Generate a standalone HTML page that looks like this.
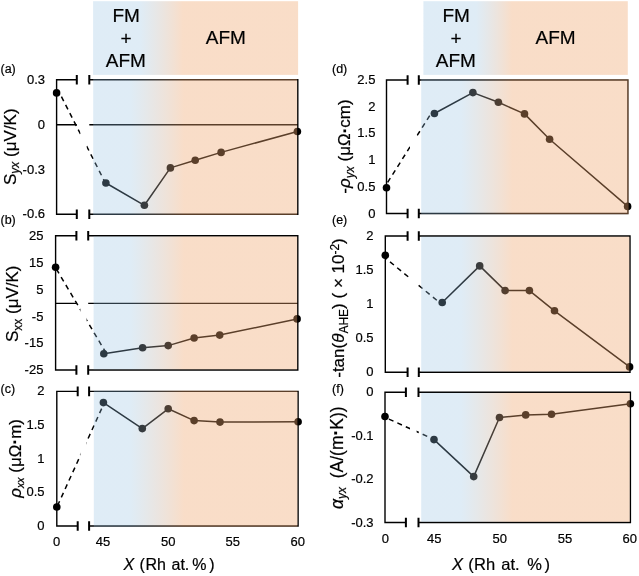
<!DOCTYPE html>
<html><head><meta charset="utf-8"><title>figure</title><style>
html,body{margin:0;padding:0;background:#fff;width:639px;height:576px;overflow:hidden;}
svg{display:block;will-change:transform;}
text{font-family:"Liberation Sans", sans-serif;fill:#000;stroke:#000;stroke-width:0.2px;}
</style></head><body>
<svg width="639" height="576" viewBox="0 0 639 576">
<defs>
<linearGradient id="gL" gradientUnits="userSpaceOnUse" x1="130.0" y1="0" x2="184.0" y2="0">
<stop offset="0" stop-color="rgb(148,192,225)" stop-opacity="0.300"/>
<stop offset="1" stop-color="rgb(239,166,110)" stop-opacity="0.380"/>
</linearGradient>
<linearGradient id="gR" gradientUnits="userSpaceOnUse" x1="461.0" y1="0" x2="512.5" y2="0">
<stop offset="0" stop-color="rgb(148,192,225)" stop-opacity="0.300"/>
<stop offset="1" stop-color="rgb(239,166,110)" stop-opacity="0.380"/>
</linearGradient>
<linearGradient id="gHL" gradientUnits="userSpaceOnUse" x1="140.0" y1="0" x2="183.0" y2="0">
<stop offset="0" stop-color="rgb(148,192,225)" stop-opacity="0.300"/>
<stop offset="1" stop-color="rgb(239,166,110)" stop-opacity="0.380"/>
</linearGradient>
<linearGradient id="gHR" gradientUnits="userSpaceOnUse" x1="476.0" y1="0" x2="512.0" y2="0">
<stop offset="0" stop-color="rgb(148,192,225)" stop-opacity="0.300"/>
<stop offset="1" stop-color="rgb(239,166,110)" stop-opacity="0.380"/>
</linearGradient>
</defs>
<rect width="639" height="576" fill="#fff"/>
<rect x="93.1" y="1.2" width="205" height="73.7" fill="url(#gHL)"/>
<rect x="423.4" y="1.2" width="204.4" height="73.7" fill="url(#gHR)"/>
<text x="126.1" y="21.9" font-size="19.0" text-anchor="middle">FM</text>
<text x="126.0" y="45.0" font-size="19.0" text-anchor="middle">+</text>
<text x="125.8" y="67.2" font-size="19.0" text-anchor="middle">AFM</text>
<text x="225.9" y="43.9" font-size="19.0" text-anchor="middle">AFM</text>
<text x="456.1" y="22.2" font-size="19.0" text-anchor="middle">FM</text>
<text x="456.0" y="45.4" font-size="19.0" text-anchor="middle">+</text>
<text x="455.9" y="67.4" font-size="19.0" text-anchor="middle">AFM</text>
<text x="555.6" y="44.2" font-size="19.0" text-anchor="middle">AFM</text>
<line x1="59.50" y1="92.80" x2="105.80" y2="183.80" stroke="#000" stroke-width="1.50" stroke-dasharray="5.00,4.25" stroke-dashoffset="4.99"/>
<polyline points="105.9,183.0 144.4,205.3 170.4,167.9 195.2,160.3 221.1,152.4 297.4,131.5" fill="none" stroke="#000" stroke-width="1.50" stroke-linejoin="round"/>
<rect x="80.4" y="73.8" width="6.2" height="146.5" fill="#fff"/>
<path d="M56.6 79.8 H76.8 M89.3 79.8 H297.8 M56.6 214.3 H76.8 M89.3 214.3 H297.8 M56.6 124.8 H76.8 M89.3 124.8 H297.8 M56.6 79.1 V215.0 M297.8 79.1 V215.0" fill="none" stroke="#000" stroke-width="1.40"/>
<circle cx="56.6" cy="92.9" r="3.80" fill="#000"/>
<circle cx="105.9" cy="183.0" r="3.80" fill="#000"/>
<circle cx="144.4" cy="205.3" r="3.80" fill="#000"/>
<circle cx="170.4" cy="167.9" r="3.80" fill="#000"/>
<circle cx="195.2" cy="160.3" r="3.80" fill="#000"/>
<circle cx="221.1" cy="152.4" r="3.80" fill="#000"/>
<circle cx="297.4" cy="131.5" r="3.80" fill="#000"/>
<rect x="93.2" y="79.0" width="203.9" height="136.0" fill="url(#gL)"/>
<path d="M76.8 75.0 V84.6 M89.3 75.0 V84.6" stroke="#000" stroke-width="2"/>
<path d="M76.8 209.5 V219.1 M89.3 209.5 V219.1" stroke="#000" stroke-width="2"/>
<text x="45.0" y="83.8" font-size="13.0" text-anchor="end">0.3</text>
<text x="45.0" y="128.8" font-size="13.0" text-anchor="end">0</text>
<text x="45.0" y="173.6" font-size="13.0" text-anchor="end">-0.3</text>
<text x="45.0" y="218.3" font-size="13.0" text-anchor="end">-0.6</text>
<line x1="55.40" y1="267.37" x2="106.60" y2="353.85" stroke="#000" stroke-width="1.50" stroke-dasharray="5.00,4.25" stroke-dashoffset="7.26"/>
<polyline points="103.8,353.8 142.6,347.7 168.2,345.6 194.1,338.0 219.7,335.1 297.1,318.9" fill="none" stroke="#000" stroke-width="1.50" stroke-linejoin="round"/>
<rect x="80.4" y="229.8" width="6.2" height="146.2" fill="#fff"/>
<path d="M55.6 235.8 H76.4 M88.2 235.8 H297.8 M55.6 370.0 H76.4 M88.2 370.0 H297.8 M55.6 303.4 H76.4 M88.2 303.4 H297.8 M55.6 235.1 V370.7 M297.8 235.1 V370.7" fill="none" stroke="#000" stroke-width="1.40"/>
<circle cx="55.6" cy="267.2" r="3.80" fill="#000"/>
<circle cx="103.8" cy="353.8" r="3.80" fill="#000"/>
<circle cx="142.6" cy="347.7" r="3.80" fill="#000"/>
<circle cx="168.2" cy="345.6" r="3.80" fill="#000"/>
<circle cx="194.1" cy="338.0" r="3.80" fill="#000"/>
<circle cx="219.7" cy="335.1" r="3.80" fill="#000"/>
<circle cx="297.1" cy="318.9" r="3.80" fill="#000"/>
<rect x="93.6" y="236.5" width="203.5" height="132.8" fill="url(#gL)"/>
<path d="M76.4 231.0 V240.6 M88.2 231.0 V240.6" stroke="#000" stroke-width="2"/>
<path d="M76.4 365.2 V374.8 M88.2 365.2 V374.8" stroke="#000" stroke-width="2"/>
<text x="43.4" y="240.0" font-size="13.0" text-anchor="end">25</text>
<text x="43.4" y="267.0" font-size="13.0" text-anchor="end">15</text>
<text x="43.4" y="293.8" font-size="13.0" text-anchor="end">5</text>
<text x="43.4" y="320.6" font-size="13.0" text-anchor="end">-5</text>
<text x="43.4" y="347.4" font-size="13.0" text-anchor="end">-15</text>
<text x="43.4" y="374.0" font-size="13.0" text-anchor="end">-25</text>
<line x1="57.00" y1="506.90" x2="104.50" y2="402.40" stroke="#000" stroke-width="1.50" stroke-dasharray="5.00,4.25" stroke-dashoffset="8.05"/>
<polyline points="103.4,402.6 142.3,428.6 168.2,408.8 194.1,420.6 220.0,422.1 298.1,421.7" fill="none" stroke="#000" stroke-width="1.50" stroke-linejoin="round"/>
<rect x="80.4" y="385.4" width="6.2" height="146.6" fill="#fff"/>
<path d="M56.8 391.4 H77.7 M89.1 391.4 H298.1 M56.8 526.0 H77.7 M89.1 526.0 H298.1 M56.8 390.7 V526.7 M298.1 390.7 V526.7" fill="none" stroke="#000" stroke-width="1.40"/>
<circle cx="56.8" cy="507.0" r="3.80" fill="#000"/>
<circle cx="103.4" cy="402.6" r="3.80" fill="#000"/>
<circle cx="142.3" cy="428.6" r="3.80" fill="#000"/>
<circle cx="168.2" cy="408.8" r="3.80" fill="#000"/>
<circle cx="194.1" cy="420.6" r="3.80" fill="#000"/>
<circle cx="220.0" cy="422.1" r="3.80" fill="#000"/>
<circle cx="298.1" cy="421.7" r="3.80" fill="#000"/>
<rect x="93.8" y="390.6" width="203.6" height="136.1" fill="url(#gL)"/>
<path d="M77.7 386.6 V396.2 M89.1 386.6 V396.2" stroke="#000" stroke-width="2"/>
<path d="M77.7 521.2 V530.8 M89.1 521.2 V530.8" stroke="#000" stroke-width="2"/>
<text x="44.6" y="395.4" font-size="13.0" text-anchor="end">2</text>
<text x="44.6" y="429.0" font-size="13.0" text-anchor="end">1.5</text>
<text x="44.6" y="462.7" font-size="13.0" text-anchor="end">1</text>
<text x="44.6" y="496.4" font-size="13.0" text-anchor="end">0.5</text>
<text x="44.6" y="530.0" font-size="13.0" text-anchor="end">0</text>
<line x1="384.40" y1="187.60" x2="430.90" y2="113.70" stroke="#000" stroke-width="1.50" stroke-dasharray="5.00,4.25" stroke-dashoffset="3.16"/>
<polyline points="434.4,113.5 472.9,92.6 498.4,102.3 524.5,113.9 549.6,139.3 627.6,206.4" fill="none" stroke="#000" stroke-width="1.50" stroke-linejoin="round"/>
<rect x="410.0" y="74.0" width="6.6" height="145.5" fill="#fff"/>
<path d="M386.5 80.0 H407.6 M418.8 80.0 H627.9 M386.5 213.5 H407.6 M418.8 213.5 H627.9 M386.5 79.3 V214.2 M627.9 79.3 V214.2" fill="none" stroke="#000" stroke-width="1.40"/>
<circle cx="386.5" cy="187.7" r="3.80" fill="#000"/>
<circle cx="434.4" cy="113.5" r="3.80" fill="#000"/>
<circle cx="472.9" cy="92.6" r="3.80" fill="#000"/>
<circle cx="498.4" cy="102.3" r="3.80" fill="#000"/>
<circle cx="524.5" cy="113.9" r="3.80" fill="#000"/>
<circle cx="549.6" cy="139.3" r="3.80" fill="#000"/>
<circle cx="627.6" cy="206.4" r="3.80" fill="#000"/>
<rect x="421.2" y="79.2" width="207.4" height="135.0" fill="url(#gR)"/>
<path d="M407.6 75.2 V84.8 M418.8 75.2 V84.8" stroke="#000" stroke-width="2"/>
<path d="M407.6 208.7 V218.3 M418.8 208.7 V218.3" stroke="#000" stroke-width="2"/>
<text x="375.4" y="84.0" font-size="13.0" text-anchor="end">2.5</text>
<text x="375.4" y="110.7" font-size="13.0" text-anchor="end">2</text>
<text x="375.4" y="137.4" font-size="13.0" text-anchor="end">1.5</text>
<text x="375.4" y="164.1" font-size="13.0" text-anchor="end">1</text>
<text x="375.4" y="190.8" font-size="13.0" text-anchor="end">0.5</text>
<text x="375.4" y="217.5" font-size="13.0" text-anchor="end">0</text>
<line x1="385.20" y1="257.89" x2="442.10" y2="304.60" stroke="#000" stroke-width="1.50" stroke-dasharray="5.00,4.25" stroke-dashoffset="2.99"/>
<polyline points="442.2,302.5 479.7,265.9 505.1,290.6 529.4,290.6 554.5,310.8 629.6,366.9" fill="none" stroke="#000" stroke-width="1.50" stroke-linejoin="round"/>
<rect x="410.0" y="230.0" width="6.6" height="148.2" fill="#fff"/>
<path d="M385.3 236.0 H407.6 M418.8 236.0 H630.0 M385.3 372.2 H407.6 M418.8 372.2 H630.0 M385.3 235.3 V372.9 M630.0 235.3 V372.9" fill="none" stroke="#000" stroke-width="1.40"/>
<circle cx="385.3" cy="255.3" r="3.80" fill="#000"/>
<circle cx="442.2" cy="302.5" r="3.80" fill="#000"/>
<circle cx="479.7" cy="265.9" r="3.80" fill="#000"/>
<circle cx="505.1" cy="290.6" r="3.80" fill="#000"/>
<circle cx="529.4" cy="290.6" r="3.80" fill="#000"/>
<circle cx="554.5" cy="310.8" r="3.80" fill="#000"/>
<circle cx="629.6" cy="366.9" r="3.80" fill="#000"/>
<rect x="421.2" y="236.7" width="208.1" height="134.8" fill="url(#gR)"/>
<path d="M407.6 231.2 V240.8 M418.8 231.2 V240.8" stroke="#000" stroke-width="2"/>
<path d="M407.6 367.4 V377.0 M418.8 367.4 V377.0" stroke="#000" stroke-width="2"/>
<text x="373.6" y="240.0" font-size="13.0" text-anchor="end">2</text>
<text x="373.6" y="274.0" font-size="13.0" text-anchor="end">1.5</text>
<text x="373.6" y="308.1" font-size="13.0" text-anchor="end">1</text>
<text x="373.6" y="342.1" font-size="13.0" text-anchor="end">0.5</text>
<text x="373.6" y="376.2" font-size="13.0" text-anchor="end">0</text>
<line x1="384.90" y1="417.32" x2="434.00" y2="439.37" stroke="#000" stroke-width="1.50" stroke-dasharray="5.00,4.25" stroke-dashoffset="4.86"/>
<polyline points="434.0,439.6 473.7,476.6 499.5,417.5 525.7,414.9 551.5,414.2 630.4,403.7" fill="none" stroke="#000" stroke-width="1.50" stroke-linejoin="round"/>
<rect x="410.0" y="386.2" width="6.6" height="142.3" fill="#fff"/>
<path d="M385.0 392.2 H405.9 M418.5 392.2 H630.4 M385.0 522.5 H405.9 M418.5 522.5 H630.4 M385.0 391.5 V523.2 M630.4 391.5 V523.2" fill="none" stroke="#000" stroke-width="1.40"/>
<circle cx="385.0" cy="416.5" r="3.80" fill="#000"/>
<circle cx="434.0" cy="439.6" r="3.80" fill="#000"/>
<circle cx="473.7" cy="476.6" r="3.80" fill="#000"/>
<circle cx="499.5" cy="417.5" r="3.80" fill="#000"/>
<circle cx="525.7" cy="414.9" r="3.80" fill="#000"/>
<circle cx="551.5" cy="414.2" r="3.80" fill="#000"/>
<circle cx="630.4" cy="403.7" r="3.80" fill="#000"/>
<rect x="421.2" y="392.9" width="208.5" height="128.9" fill="url(#gR)"/>
<path d="M405.9 387.4 V397.0 M418.5 387.4 V397.0" stroke="#000" stroke-width="2"/>
<path d="M405.9 517.7 V527.3 M418.5 517.7 V527.3" stroke="#000" stroke-width="2"/>
<text x="373.6" y="396.2" font-size="13.0" text-anchor="end">0</text>
<text x="373.6" y="439.6" font-size="13.0" text-anchor="end">-0.1</text>
<text x="373.6" y="483.1" font-size="13.0" text-anchor="end">-0.2</text>
<text x="373.6" y="526.5" font-size="13.0" text-anchor="end">-0.3</text>
<text x="0.5" y="73.0" font-size="12.5" text-anchor="start">(a)</text>
<text x="0.5" y="224.0" font-size="12.5" text-anchor="start">(b)</text>
<text x="0.5" y="393.0" font-size="12.5" text-anchor="start">(c)</text>
<text x="332.0" y="72.6" font-size="12.5" text-anchor="start">(d)</text>
<text x="332.0" y="224.0" font-size="12.5" text-anchor="start">(e)</text>
<text x="332.0" y="393.0" font-size="12.5" text-anchor="start">(f)</text>
<text x="56.6" y="545.6" font-size="13.0" text-anchor="middle">0</text>
<text x="103.0" y="545.6" font-size="13.0" text-anchor="middle">45</text>
<text x="168.2" y="545.6" font-size="13.0" text-anchor="middle">50</text>
<text x="232.8" y="545.6" font-size="13.0" text-anchor="middle">55</text>
<text x="297.7" y="545.6" font-size="13.0" text-anchor="middle">60</text>
<text x="385.3" y="542.5" font-size="13.0" text-anchor="middle">0</text>
<text x="434.2" y="542.5" font-size="13.0" text-anchor="middle">45</text>
<text x="499.7" y="542.5" font-size="13.0" text-anchor="middle">50</text>
<text x="565.0" y="542.5" font-size="13.0" text-anchor="middle">55</text>
<text x="629.8" y="542.5" font-size="13.0" text-anchor="middle">60</text>
<text y="570.4" font-size="16.0"><tspan x="123.5" font-style="italic">X</tspan><tspan x="139.5">(</tspan><tspan x="145.4">Rh</tspan><tspan x="171.5">at.</tspan><tspan x="192.3">%</tspan><tspan x="209.2">)</tspan></text>
<text y="569.5" font-size="16.5"><tspan x="451.9" font-style="italic">X</tspan><tspan x="468.2">(</tspan><tspan x="474.1">Rh</tspan><tspan x="501.3">at.</tspan><tspan x="527.2">%</tspan><tspan x="544.5">)</tspan></text>
<text transform="translate(16.3 146.7) rotate(-90)" font-size="17" text-anchor="middle">S<tspan font-size="12.0" dy="2.8" font-style="italic">yx</tspan><tspan dy="-2.8"> </tspan>(μV/K)</text>
<text transform="translate(18.4 303.8) rotate(-90)" font-size="17" text-anchor="middle">S<tspan font-size="12.0" dy="3.5">xx</tspan><tspan dy="-3.5"> </tspan>(μV/K)</text>
<text transform="translate(20.6 458.3) rotate(-90)" font-size="17" text-anchor="middle"><tspan font-style="italic">ρ</tspan><tspan font-size="10.5" dy="3.5" font-style="italic">xx</tspan><tspan dy="-3.5"> </tspan>(μΩ<tspan font-weight="bold" dy="-0.8">·</tspan><tspan dy="0.8">m)</tspan></text>
<text transform="translate(350.3 146.5) rotate(-90)" font-size="17" text-anchor="middle">-<tspan font-style="italic">ρ</tspan><tspan font-size="12.0" dy="3.5" font-style="italic">yx</tspan><tspan dy="-3.5"> </tspan>(μΩ<tspan font-weight="bold" dy="-0.8">·</tspan><tspan dy="0.8">cm)</tspan></text>
<text transform="translate(344.2 308.0) rotate(-90)" font-size="17" text-anchor="middle">-tan(<tspan font-style="italic">θ</tspan><tspan font-size="12" dy="3.5">AHE</tspan><tspan dy="-3.5">) ( × 10</tspan><tspan font-size="12" dy="-4.8">-2</tspan><tspan dy="4.8">)</tspan></text>
<text transform="translate(342.8 457.7) rotate(-90)" font-size="17.5" text-anchor="middle"><tspan font-style="italic">α</tspan><tspan font-size="12" dy="3.5" font-style="italic">yx</tspan><tspan dy="-3.5" dx="4"> (A/(m</tspan><tspan font-weight="bold" dy="-0.8">·</tspan><tspan dy="0.8">K))</tspan></text>
</svg>
</body></html>
